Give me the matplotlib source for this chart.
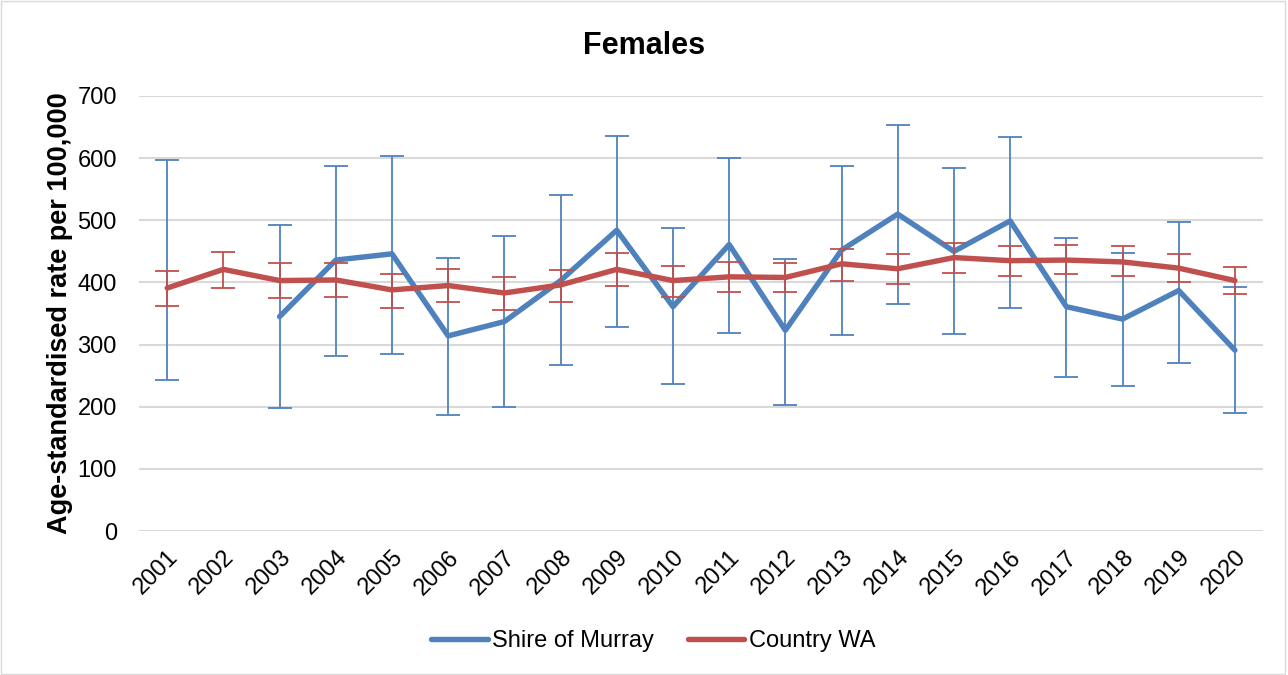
import numpy as np
import matplotlib.pyplot as plt
from matplotlib.patches import Rectangle

plt.rcParams['font.family'] = ['Liberation Sans', 'DejaVu Sans']

years = [str(y) for y in range(2001, 2021)]

# Shire of Murray (2002 missing)
murray = [420, np.nan, 345, 436, 446, 314, 337, 403, 484, 361, 461, 323, 452, 510, 450, 499, 361, 341, 387, 291]
murray_hi = [597, np.nan, 492, 588, 603, 439, 475, 540, 636, 488, 600, 438, 588, 654, 584, 634, 472, 447, 498, 392]
murray_lo = [243, np.nan, 198, 282, 285, 186, 200, 267, 328, 237, 318, 203, 315, 365, 317, 359, 248, 233, 271, 190]

# Country WA
country = [391, 421, 403, 404, 388, 395, 383, 396, 421, 403, 409, 408, 430, 422, 440, 435, 436, 433, 423, 403]
country_hi = [419, 449, 431, 432, 414, 422, 408, 420, 447, 427, 433, 432, 453, 446, 463, 459, 460, 459, 446, 425]
country_lo = [362, 391, 375, 377, 359, 369, 356, 368, 394, 376, 384, 384, 403, 398, 415, 410, 413, 410, 400, 381]

blue = '#4F81BD'
red = '#C0504D'

fig = plt.figure(figsize=(12.88, 6.75), dpi=100)
ax = fig.add_axes([0.108, 0.2133, 0.8726, 0.6445])
x = np.arange(len(years))

m = np.array(murray)
ax.errorbar(x, m, yerr=[m - np.array(murray_lo), np.array(murray_hi) - m],
            fmt='none', ecolor=blue, elinewidth=1.3, capsize=8.5, capthick=1.3, zorder=2)
ax.plot(x, m, color=blue, lw=3.9, solid_capstyle='round', label='Shire of Murray', zorder=3)

c = np.array(country)
ax.errorbar(x, c, yerr=[c - np.array(country_lo), np.array(country_hi) - c],
            fmt='none', ecolor=red, elinewidth=1.3, capsize=8.5, capthick=1.3, zorder=4)
ax.plot(x, c, color=red, lw=3.9, solid_capstyle='round', label='Country WA', zorder=5)

ax.set_xlim(-0.5, len(years) - 0.5)
ax.set_ylim(0, 700)
ax.set_yticks(range(0, 701, 100))
ax.set_xticks(x)
ax.set_xticklabels(years, rotation=45, ha='right', rotation_mode='anchor')
ax.tick_params(axis='both', length=0, labelsize=17, colors='black')
ax.tick_params(axis='x', pad=11)
ax.tick_params(axis='y', pad=16)
ax.grid(axis='y', color='#d9d9d9', lw=1.5)
ax.set_axisbelow(True)
for s in ax.spines.values():
    s.set_visible(False)

ax.set_ylabel('Age-standardised rate per 100,000', fontsize=19.5, fontweight='bold', labelpad=3)
fig.text(0.5, 0.932, 'Females', ha='center', va='center', fontsize=22, fontweight='bold')

fig.legend(loc='center', bbox_to_anchor=(0.507, 0.05), ncol=2, frameon=False, fontsize=17,
           handlelength=2.4, columnspacing=1.45, handletextpad=0.17)

fig.patches.append(Rectangle((0.001, 0.001), 0.997, 0.997, transform=fig.transFigure,
                             fill=False, edgecolor='#d9d9d9', lw=1))

fig.savefig('out.png', dpi=100)
